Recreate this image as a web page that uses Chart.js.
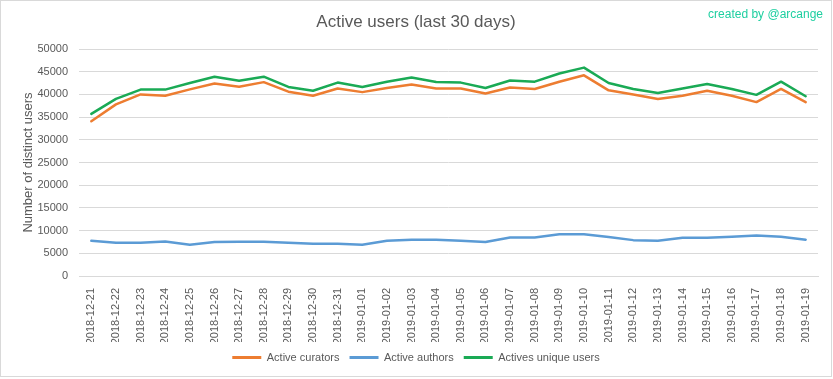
<!DOCTYPE html>
<html>
<head>
<meta charset="utf-8">
<script src="https://cdn.jsdelivr.net/npm/chart.js@4.4.1/dist/chart.umd.min.js"></script>
<style>
html,body{margin:0;padding:0;background:#fff;}
#wrap{width:833px;height:379px;position:relative;}
</style>
</head>
<body>
<div id="wrap"><canvas id="c" width="833" height="379"></canvas></div>
<script>
const categories = ["2018-12-21","2018-12-22","2018-12-23","2018-12-24","2018-12-25","2018-12-26","2018-12-27","2018-12-28","2018-12-29","2018-12-30","2018-12-31","2019-01-01","2019-01-02","2019-01-03","2019-01-04","2019-01-05","2019-01-06","2019-01-07","2019-01-08","2019-01-09","2019-01-10","2019-01-11","2019-01-12","2019-01-13","2019-01-14","2019-01-15","2019-01-16","2019-01-17","2019-01-18","2019-01-19"];
const activeCurators = [34100,37800,40000,39700,41100,42400,41700,42700,40600,39700,41300,40500,41400,42200,41300,41300,40200,41500,41200,42800,44200,40900,40000,39000,39700,40800,39700,38300,41200,38300];
const activeAuthors = [7750,7300,7300,7600,6900,7500,7550,7550,7300,7100,7100,6900,7750,8000,8000,7750,7500,8500,8500,9200,9200,8600,7900,7750,8400,8400,8650,8900,8650,8000];
const activeUnique = [35700,39000,41060,41060,42500,43900,43000,43900,41650,40800,42600,41650,42800,43700,42750,42600,41400,43050,42800,44600,45900,42500,41200,40300,41300,42300,41200,39900,42800,39600];
const seriesNames = ["Active curators","Active authors","Actives unique users"];
const yTicks = [0,5000,10000,15000,20000,25000,30000,35000,40000,45000,50000];
const titleText = "Active users (last 30 days)";
const creditText = "created by @arcange";
const yTitle = "Number of distinct users";

const FONT = "'Liberation Sans',Arial,sans-serif";
const TXT = "#595959";

const bgPlugin = {
  id: 'bg',
  beforeDraw(chart) {
    const ctx = chart.ctx;
    ctx.save();
    ctx.fillStyle = '#fff';
    ctx.fillRect(0, 0, chart.width, chart.height);
    ctx.strokeStyle = '#d9d9d9';
    ctx.lineWidth = 1;
    ctx.strokeRect(0.5, 0.5, chart.width - 2, chart.height - 3);
    ctx.restore();
  },
  afterDraw(chart) {
    const ctx = chart.ctx;
    ctx.save();
    ctx.font = "12px " + FONT;
    ctx.fillStyle = '#1ecfa0';
    ctx.textAlign = 'right';
    ctx.textBaseline = 'middle';
    ctx.fillText(creditText, 823, 15);
    ctx.restore();
  }
};

const colors = ['#ED7D31', '#5B9BD5', '#1AAA55'];
const values = [activeCurators, activeAuthors, activeUnique];

new Chart(document.getElementById('c'), {
  type: 'line',
  data: {
    labels: categories,
    datasets: seriesNames.map((n, i) => ({
      label: n,
      data: values[i],
      borderColor: colors[i],
      backgroundColor: colors[i],
      borderWidth: 2.5,
      pointRadius: 0,
      tension: 0,
      borderJoinStyle: 'round',
      borderCapStyle: 'round',
      fill: false
    }))
  },
  options: {
    responsive: false,
    animation: false,
    layout: { padding: { left: 14, right: 15, top: 0, bottom: 6 } },
    plugins: {
      title: {
        display: true,
        text: titleText,
        color: TXT,
        font: { family: FONT, size: 17, weight: 'normal' },
        padding: { top: 12, bottom: 16.6 }
      },
      legend: {
        position: 'bottom',
        labels: {
          color: TXT,
          font: { family: FONT, size: 11 },
          boxWidth: 29,
          boxHeight: 3,
          padding: 10,
          generateLabels(chart) {
            return chart.data.datasets.map((d, i) => ({
              text: d.label,
              fillStyle: d.borderColor,
              strokeStyle: d.borderColor,
              lineWidth: 0,
              fontColor: TXT,
              datasetIndex: i,
              hidden: false
            }));
          }
        }
      },
      tooltip: { enabled: false }
    },
    scales: {
      x: {
        type: 'category',
        offset: true,
        grid: { display: false },
        border: { color: '#d9d9d9' },
        ticks: {
          color: TXT,
          font: { family: FONT, size: 11 },
          minRotation: 90,
          maxRotation: 90,
          autoSkip: false,
          padding: 4
        },
        afterFit(s) { s.height = 66; }
      },
      y: {
        min: 0,
        max: 50000,
        afterBuildTicks(s) { s.ticks = yTicks.map(v => ({ value: v })); },
        grid: { color: '#d9d9d9', drawTicks: false },
        border: { display: false },
        ticks: {
          color: TXT,
          font: { family: FONT, size: 11 },
          padding: 11,
          callback: v => String(v)
        },
        title: {
          display: true,
          text: yTitle,
          color: TXT,
          font: { family: FONT, size: 13 },
          padding: { top: 7, bottom: 0 }
        },
        afterFit(s) { s.width = 65; }
      }
    }
  },
  plugins: [bgPlugin]
});
</script>
</body>
</html>
